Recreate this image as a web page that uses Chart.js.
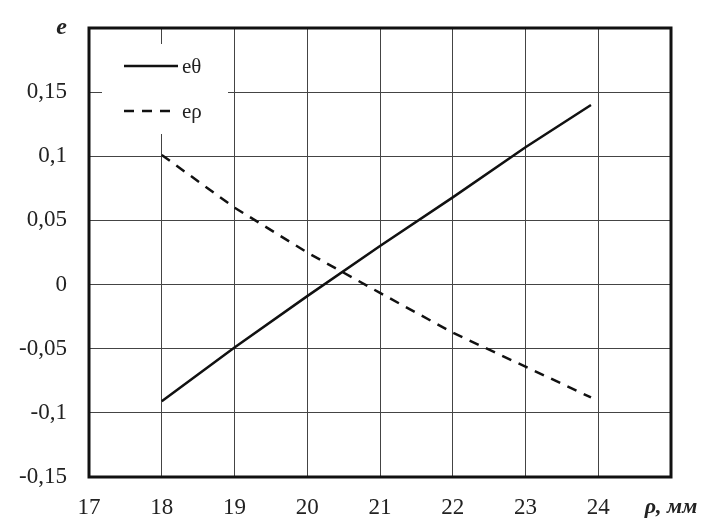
<!DOCTYPE html>
<html>
<head>
<meta charset="utf-8">
<script src="https://cdn.jsdelivr.net/npm/chart.js@4.4.1/dist/chart.umd.min.js"></script>
<style>
html,body{margin:0;padding:0;background:#fff;}
#wrap{width:709px;height:523px;}
</style>
</head>
<body>
<div id="wrap"><canvas id="c" width="709" height="523"></canvas></div>
<script>
const rho = [18, 19, 20, 21, 22, 23, 23.9];
const eTheta = [-0.091, -0.049, -0.009, 0.030, 0.068, 0.107, 0.140];
const eRho = [0.101, 0.060, 0.025, -0.0065, -0.0375, -0.064, -0.088];
const seriesNames = ['eθ', 'eρ'];
const xAxisTitle = 'ρ, мм';
const yAxisTitle = 'e';
const xTicks = [17, 18, 19, 20, 21, 22, 23, 24];
const yTicks = [-0.15, -0.1, -0.05, 0, 0.05, 0.1, 0.15];

const SERIF = '"Liberation Serif", "Times New Roman", serif';

function pts(xs, ys){ return xs.map((x,i)=>({x:x, y:ys[i]})); }

const frame = {
  id:'frame',
  beforeDatasetsDraw(chart){
    const a = chart.chartArea, ctx = chart.ctx;
    ctx.save();
    ctx.strokeStyle = '#111';
    ctx.lineWidth = 3;
    ctx.strokeRect(a.left, a.top, a.right - a.left, a.bottom - a.top);
    ctx.restore();
  }
};

const innerLegend = {
  id:'innerLegend',
  afterDatasetsDraw(chart){
    const a = chart.chartArea, ctx = chart.ctx;
    ctx.save();
    ctx.fillStyle = '#fff';
    ctx.fillRect(a.left + 13, a.top + 16, 126, 90);
    chart.data.datasets.forEach((ds, i) => {
      const y = a.top + 38 + i * 45;
      ctx.strokeStyle = ds.borderColor;
      ctx.lineWidth = ds.borderWidth;
      ctx.setLineDash(ds.borderDash || []);
      ctx.beginPath();
      ctx.moveTo(a.left + 35, y);
      ctx.lineTo(a.left + 89, y);
      ctx.stroke();
      ctx.setLineDash([]);
      ctx.fillStyle = '#222';
      ctx.font = '21px ' + SERIF;
      ctx.textBaseline = 'middle';
      ctx.textAlign = 'left';
      ctx.fillText(ds.label, a.left + 93, y + 1);
    });
    ctx.restore();
  }
};

function fmt(v){
  const r = Math.round(v * 100) / 100;
  return String(r).replace('.', ',');
}

new Chart(document.getElementById('c'), {
  type: 'line',
  data: {
    datasets: [
      { label: seriesNames[0], data: pts(rho, eTheta), borderColor: '#111', borderWidth: 2.5, pointRadius: 0, fill: false, tension: 0 },
      { label: seriesNames[1], data: pts(rho, eRho), borderColor: '#111', borderWidth: 2.5, borderDash: [10, 8], pointRadius: 0, fill: false, tension: 0 }
    ]
  },
  options: {
    responsive: false,
    animation: false,
    layout: { padding: { top: 28, right: 38, left: 0, bottom: 0 } },
    plugins: { legend: { display: false }, tooltip: { enabled: false } },
    scales: {
      x: {
        type: 'linear', min: 17, max: 25,
        afterBuildTicks(s){ s.ticks = xTicks.concat([25]).map(v => ({value: v})); },
        afterFit(s){ s.height = 46; s.paddingLeft = 0; s.paddingRight = 0; },
        grid: { color: '#444', lineWidth: 1, drawTicks: false },
        border: { display: false },
        ticks: {
          padding: 17,
          color: '#222',
          maxRotation: 0,
          autoSkip: false,
          font: (c) => (c.tick && c.tick.value === 25) ? { family: SERIF, size: 22, weight: 'bold', style: 'italic' } : { family: SERIF, size: 23 },
          callback: (v) => v === 25 ? xAxisTitle : String(v)
        }
      },
      y: {
        type: 'linear', min: -0.15, max: 0.2,
        afterBuildTicks(s){ s.ticks = yTicks.concat([0.2]).map(v => ({value: v})); },
        afterFit(s){ s.width = 89; s.paddingTop = 0; s.paddingBottom = 0; },
        grid: { color: '#444', lineWidth: 1, drawTicks: false },
        border: { display: false },
        ticks: {
          padding: 22,
          color: '#222',
          autoSkip: false,
          font: (c) => (c.tick && Math.abs(c.tick.value - 0.2) < 1e-9) ? { family: SERIF, size: 24, weight: 'bold', style: 'italic' } : { family: SERIF, size: 23 },
          callback: (v) => Math.abs(v - 0.2) < 1e-9 ? yAxisTitle : fmt(v)
        }
      }
    }
  },
  plugins: [frame, innerLegend]
});
</script>
</body>
</html>
